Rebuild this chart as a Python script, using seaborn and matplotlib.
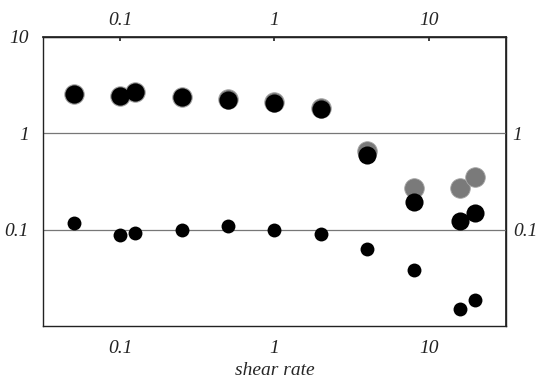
import matplotlib
matplotlib.use("Agg")
import matplotlib.pyplot as plt
from matplotlib.ticker import NullLocator
import pandas as pd
import seaborn as sns

# shear rate values (shared by all series)
shear_rate = [0.05, 0.1, 0.125, 0.25, 0.5, 1.0, 2.0, 4.0, 8.0, 16.0, 20.0]
# large grey circles (behind)
grey_large = [2.55, 2.43, 2.67, 2.4, 2.25, 2.1, 1.85, 0.66, 0.27, 0.27, 0.35]
# large black circles
black_large = [2.55, 2.43, 2.67, 2.37, 2.2, 2.05, 1.78, 0.59, 0.196, 0.124, 0.15]
# small black circles
black_small = [0.118, 0.089, 0.093, 0.099, 0.108, 0.1, 0.091, 0.063, 0.038, 0.015, 0.0186]

x_ticks = [0.1, 1, 10]
x_tick_labels = ["0.1", "1", "10"]
y_ticks_left = [0.1, 1, 10]
y_labels_left = ["0.1", "1", "10"]
y_ticks_right = [0.1, 1]
y_labels_right = ["0.1", "1"]

sns.set_theme(style="white")
plt.rcParams["font.family"] = ["Liberation Serif", "DejaVu Serif"]

df = pd.DataFrame({
    "shear": shear_rate,
    "grey": grey_large,
    "black": black_large,
    "small": black_small,
})

fig = plt.figure(figsize=(5.41, 3.83), dpi=100)
ax = fig.add_axes([0.0795, 0.1488, 0.8555, 0.7546])

sns.scatterplot(data=df, x="shear", y="grey", s=200, color="#7a7a7a",
                edgecolor="#a8a8a8", linewidth=0.6, ax=ax, zorder=3)
sns.scatterplot(data=df, x="shear", y="black", s=170, color="black",
                edgecolor="black", linewidth=0, ax=ax, zorder=4)
sns.scatterplot(data=df, x="shear", y="small", s=100, color="black",
                edgecolor="black", linewidth=0, ax=ax, zorder=4)

ax.set_xscale("log")
ax.set_yscale("log")
ax.set_xlim(10 ** -1.5, 10 ** 1.5)
ax.set_ylim(0.01, 10)
ax.minorticks_off()

ax.set_xticks(x_ticks)
ax.set_xticklabels(x_tick_labels)
ax.set_yticks(y_ticks_left)
ax.set_yticklabels(y_labels_left)
ax.yaxis.grid(True, color="#777777", linewidth=0.9)
ax.xaxis.grid(False)

for sp in ax.spines.values():
    sp.set_visible(True)
    sp.set_color("#222222")
    sp.set_linewidth(1.0)

ax.tick_params(axis="both", direction="in", length=3, width=0.8, colors="#222222",
               labelsize=14, pad=10)
for t in ax.get_xticklabels() + ax.get_yticklabels():
    t.set_fontstyle("italic")

top = ax.secondary_xaxis("top")
top.set_xticks(x_ticks)
top.set_xticklabels(x_tick_labels)
top.xaxis.set_minor_locator(NullLocator())
top.tick_params(direction="in", length=3, labelsize=14, pad=6)
for t in top.get_xticklabels():
    t.set_fontstyle("italic")

right = ax.secondary_yaxis("right")
right.set_yticks(y_ticks_right)
right.set_yticklabels(y_labels_right)
right.yaxis.set_minor_locator(NullLocator())
right.tick_params(direction="in", length=0, labelsize=14, pad=5)
for t in right.get_yticklabels():
    t.set_fontstyle("italic")

ax.set_ylabel("")
ax.set_xlabel("shear rate", fontsize=14, fontstyle="italic", labelpad=4)

fig.savefig("out.png", dpi=100)
